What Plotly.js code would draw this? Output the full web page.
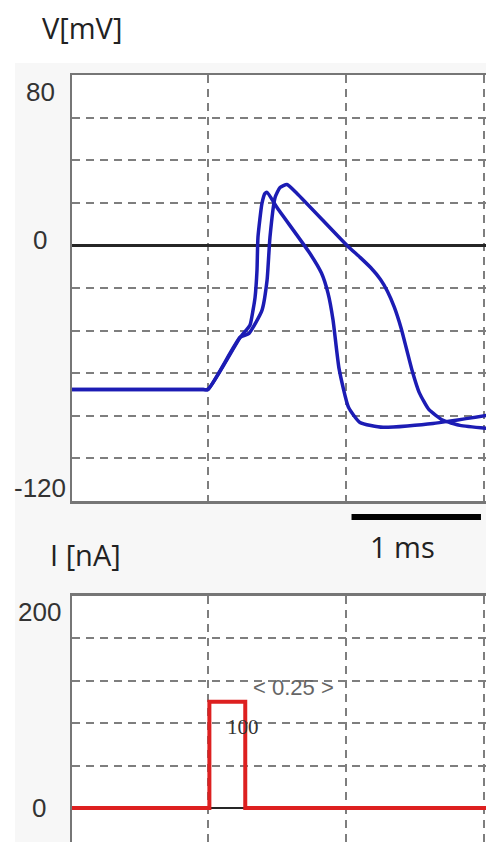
<!DOCTYPE html>
<html>
<head>
<meta charset="utf-8">
<script src="https://cdn.plot.ly/plotly-3.0.1.min.js"></script>
<style>html,body{margin:0;padding:0;background:#fff;}#chart{width:486px;height:842px;}</style>
</head>
<body>
<div id="chart"></div>
<script>
// ---- Data (time in ms) ----
const timeEarly = [0.0, 0.95, 1.0, 1.232, 1.254, 1.304, 1.326, 1.341, 1.355, 1.362, 1.391, 1.413, 1.428, 1.50, 1.739, 1.822, 1.87, 1.906, 1.95, 2.018, 2.101, 2.268, 2.63, 3.02];
const voltageEarly = [-67.6, -67.6, -67.6, -43.2, -41.5, -37.5, -30.5, -24.4, -11.7, 3.8, 19.7, 24.4, 24.9, 17.8, -3.8, -13, -22.5, -35, -58, -76, -83.1, -85.4, -83.6, -79.8];

const timeLate = [0.0, 0.95, 1.0, 1.232, 1.297, 1.391, 1.428, 1.449, 1.486, 1.522, 1.572, 1.645, 2.007, 2.10, 2.18, 2.25, 2.30, 2.35, 2.40, 2.44, 2.48, 2.53, 2.60, 2.70, 2.826, 3.02];
const voltageLate = [-67.6, -67.6, -67.6, -43.2, -41.3, -30.5, -16.4, 3.8, 22.5, 27.2, 28.6, 24.4, 0, -5.5, -10.5, -16, -21.5, -29, -39, -49, -59, -69, -77, -82, -84.5, -85.9];

const timeStim = [0.0, 1.01, 1.01, 1.27, 1.27, 3.02];
const currentStim = [0, 0, 100, 100, 0, 0];

const vTickVals = [80, 0, -120];
const vTickText = ['80', '0', '-120'];
const iTickVals = [200, 0];
const iTickText = ['200', '0'];
const scaleBar = [2.04, 2.978];        // ms
const scaleBarLabel = '1 ms';
const pulseDurationLabel = '< 0.25 >';
const pulseAmpLabel = '100';

// ---- Layout helpers ----
const W = 486, H = 842, ML = 72, MT = 75;
const PW = W - ML, PH = H - MT;
const px = x => (x - ML) / PW;
const py = y => (H - y) / PH;
const xRange = [(ML - 70) / 138, (W - 70) / 138];

const blue = '#1c1cb4';
const red = '#dd2020';
const grid = '#7e7e7e';
const frame = '#767676';
const dash = '8px,6px';
const tickFont = {family: 'Liberation Sans, Arial, sans-serif', size: 26, color: '#333'};
const titleFont = {family: 'Open Sans, sans-serif', size: 29, color: '#222'};

const traces = [
  {x: timeEarly, y: voltageEarly, xaxis: 'x', yaxis: 'y', mode: 'lines',
   line: {color: blue, width: 3.5, shape: 'spline', smoothing: 0.5}, hoverinfo: 'skip'},
  {x: timeLate, y: voltageLate, xaxis: 'x', yaxis: 'y', mode: 'lines',
   line: {color: blue, width: 3.5, shape: 'spline', smoothing: 0.5}, hoverinfo: 'skip'},
  {x: timeStim, y: currentStim, xaxis: 'x2', yaxis: 'y2', mode: 'lines',
   line: {color: red, width: 4}, hoverinfo: 'skip'}
];

const axX = {
  range: xRange, tick0: 0, dtick: 1, showticklabels: false, ticks: '',
  showgrid: true, gridcolor: grid, gridwidth: 2, griddash: dash,
  zeroline: false, showline: true, linecolor: frame, linewidth: 2.5
};

const annotations = [];
vTickVals.forEach((v, i) => {
  const shift = v === 80 ? -17 : (v === 0 ? 5 : 13);
  annotations.push({xref: 'paper', yref: 'y', x: px(40), y: v, yshift: shift,
    text: vTickText[i], showarrow: false, xanchor: 'center', yanchor: 'middle', font: tickFont});
});
iTickVals.forEach((v, i) => {
  const shift = v === 200 ? -16 : 0;
  annotations.push({xref: 'paper', yref: 'y2', x: px(39), y: v, yshift: shift,
    text: iTickText[i], showarrow: false, xanchor: 'center', yanchor: 'middle', font: tickFont});
});
annotations.push({xref: 'paper', yref: 'paper', x: px(82), y: py(28), text: 'V[mV]',
  showarrow: false, xanchor: 'center', yanchor: 'middle', font: titleFont});
annotations.push({xref: 'paper', yref: 'paper', x: px(85), y: py(554), text: 'I [nA]',
  showarrow: false, xanchor: 'center', yanchor: 'middle', font: titleFont});
annotations.push({xref: 'paper', yref: 'paper', x: px(402), y: py(546), text: scaleBarLabel,
  showarrow: false, xanchor: 'center', yanchor: 'middle', font: titleFont});
annotations.push({xref: 'x2', yref: 'y2', x: 1.623, y: 113, text: pulseDurationLabel,
  showarrow: false, xanchor: 'center', yanchor: 'middle',
  font: {family: 'Liberation Sans, Arial, sans-serif', size: 22, color: '#666'}});
annotations.push({xref: 'x2', yref: 'y2', x: 1.254, y: 76, text: pulseAmpLabel,
  showarrow: false, xanchor: 'center', yanchor: 'middle',
  font: {family: 'Liberation Serif, Times New Roman, serif', size: 21, color: '#333'}});

const layout = {
  width: W, height: H, autosize: false,
  margin: {l: ML, r: 0, t: MT, b: 0, pad: 0},
  paper_bgcolor: '#f7f7f7', plot_bgcolor: '#ffffff',
  showlegend: false,
  xaxis: Object.assign({}, axX, {anchor: 'y', mirror: true}),
  xaxis2: Object.assign({}, axX, {anchor: 'y2', side: 'top', matches: 'x'}),
  yaxis: {
    domain: [py(501), 1], range: [-120, 80], anchor: 'x',
    tickvals: [-100, -80, -60, -40, -20, 20, 40, 60], showticklabels: false, ticks: '',
    showgrid: true, gridcolor: grid, gridwidth: 2, griddash: dash,
    zeroline: true, zerolinecolor: '#262626', zerolinewidth: 2.8,
    showline: true, linecolor: frame, linewidth: 2.5
  },
  yaxis2: {
    domain: [0, py(595.5)], range: [-32, 200], anchor: 'x2',
    tickvals: [40, 80, 120, 160], showticklabels: false, ticks: '',
    showgrid: true, gridcolor: grid, gridwidth: 2, griddash: dash,
    zeroline: true, zerolinecolor: '#262626', zerolinewidth: 2.8,
    showline: true, linecolor: frame, linewidth: 2.5
  },
  shapes: [
    {type: 'rect', xref: 'paper', yref: 'paper', x0: px(0), x1: px(486), y0: py(63), y1: py(0),
     fillcolor: '#ffffff', line: {width: 0}, layer: 'below'},
    {type: 'rect', xref: 'paper', yref: 'paper', x0: px(0), x1: px(15), y0: py(842), y1: py(63),
     fillcolor: '#ffffff', line: {width: 0}, layer: 'below'},
    {type: 'line', xref: 'x', yref: 'paper', x0: scaleBar[0], x1: scaleBar[1],
     y0: py(517), y1: py(517), line: {color: '#000', width: 6}}
  ],
  annotations: annotations
};

Plotly.newPlot('chart', traces, layout, {staticPlot: true, displayModeBar: false});
</script>
</body>
</html>
